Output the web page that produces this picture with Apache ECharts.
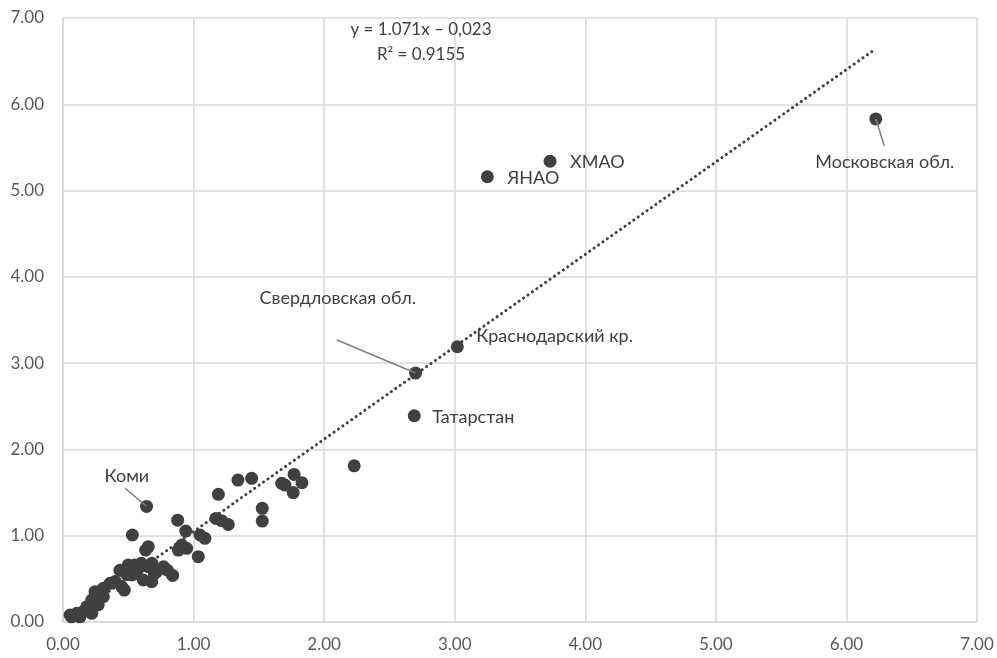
<!DOCTYPE html>
<html>
<head>
<meta charset="utf-8">
<script src="https://cdn.jsdelivr.net/npm/echarts@6/dist/echarts.min.js"></script>
<style>
  html, body { margin: 0; padding: 0; background: #ffffff; }
  #chart { width: 997px; height: 658px; }
</style>
</head>
<body>
<div id="chart"></div>
<script>
// Regions: x and y values (same units on both axes)
const xValues = [
  6.225, 3.73, 3.25, 3.02, 2.70, 2.69, 0.64,
  2.23, 1.34, 1.445, 1.19, 1.675, 1.70, 1.77, 1.83, 1.763, 1.526, 1.526, 1.171, 1.215, 1.266,
  0.878, 0.94, 1.049, 1.087, 1.036, 0.531, 0.653, 0.633, 0.909, 0.883, 0.947,
  0.436, 0.50, 0.577, 0.653, 0.717, 0.615, 0.679, 0.526, 0.80, 0.84, 0.77,
  0.55, 0.60, 0.68, 0.49, 0.56, 0.70,
  0.449, 0.36, 0.40, 0.309, 0.245, 0.283, 0.309, 0.22, 0.181, 0.258, 0.27,
  0.155, 0.105, 0.054, 0.066, 0.22, 0.13, 0.19, 0.47
];
const yValues = [
  5.83, 5.34, 5.16, 3.19, 2.885, 2.39, 1.34,
  1.81, 1.645, 1.665, 1.48, 1.607, 1.587, 1.71, 1.614, 1.50, 1.317, 1.17, 1.20, 1.174, 1.13,
  1.18, 1.054, 1.008, 0.97, 0.757, 1.008, 0.873, 0.834, 0.892, 0.834, 0.854,
  0.60, 0.66, 0.62, 0.64, 0.583, 0.487, 0.467, 0.545, 0.60, 0.54, 0.64,
  0.66, 0.68, 0.68, 0.55, 0.56, 0.56,
  0.41, 0.448, 0.47, 0.39, 0.35, 0.275, 0.293, 0.255, 0.177, 0.197, 0.20,
  0.12, 0.10, 0.081, 0.06, 0.10, 0.06, 0.16, 0.37
];
// Names for the labelled regions (index matches the value arrays)
const pointNames = [
  'Московская обл.', 'ХМАО', 'ЯНАО', 'Краснодарский кр.', 'Свердловская обл.', 'Татарстан', 'Коми'
];
// Label placement relative to each labelled dot: [dx, dy, align]
const labelOffsets = [
  [9, 43, 'center'], [20, 1, 'left'], [20, 1, 'left'], [19, -11, 'left'],
  [-156, -75, 'left'], [18, 1, 'left'], [-42, -30, 'left']
];
// Leader lines: from label end to the dot
const leaderLines = [
  { name: 'Московская обл.', from: [6.29, 5.52] },
  { name: 'Свердловская обл.', from: [2.098, 3.268] },
  { name: 'Коми', from: [0.475, 1.55] }
];
// Linear trend (as shown in the equation)
const trendSlope = 1.071;
const trendIntercept = -0.023;
const trendRange = [0.05, 6.2];
const equationText = 'y = 1.071x – 0,023';
const r2Text = 'R² = 0.9155';
const axisMin = 0, axisMax = 7, axisStep = 1;

const FONT = 'Lato, "Open Sans", sans-serif';
const DARK = '#404040';

const scatterData = xValues.map((x, i) => {
  const item = { value: [x, yValues[i]] };
  if (i < pointNames.length) {
    const off = labelOffsets[i];
    item.name = pointNames[i];
    item.label = {
      show: true,
      position: 'inside',
      formatter: pointNames[i],
      offset: [off[0], off[1]],
      align: off[2],
      verticalAlign: 'middle',
      color: DARK,
      fontSize: 18,
      fontFamily: FONT
    };
  }
  return item;
});

const trendData = trendRange.map(x => [x, trendSlope * x + trendIntercept]);

const leaderData = leaderLines.map(l => {
  const idx = pointNames.indexOf(l.name);
  return [{ coord: l.from }, { coord: [xValues[idx], yValues[idx]] }];
});

const chart = echarts.init(document.getElementById('chart'), null, { renderer: 'canvas' });
chart.setOption({
  animation: false,
  backgroundColor: '#ffffff',
  grid: { left: 63, right: 20, top: 18, bottom: 36, containLabel: false },
  xAxis: {
    type: 'value', min: axisMin, max: axisMax, interval: axisStep,
    axisLine: { show: true, lineStyle: { color: '#d9d9d9', width: 1.5 } },
    axisTick: { show: false },
    splitLine: { show: true, lineStyle: { color: '#d9d9d9', width: 1.5 } },
    axisLabel: { color: '#595959', fontSize: 17, fontFamily: FONT, margin: 14,
      formatter: v => v.toFixed(2) }
  },
  yAxis: {
    type: 'value', min: axisMin, max: axisMax, interval: axisStep,
    axisLine: { show: true, lineStyle: { color: '#d9d9d9', width: 1.5 } },
    axisTick: { show: false },
    splitLine: { show: true, lineStyle: { color: '#d9d9d9', width: 1.5 } },
    axisLabel: { color: '#595959', fontSize: 17, fontFamily: FONT, margin: 19,
      formatter: v => v.toFixed(2) }
  },
  series: [
    {
      type: 'line',
      data: trendData,
      showSymbol: false,
      symbol: 'none',
      lineStyle: { color: DARK, width: 3, type: [0.1, 5.3], cap: 'round' },
      z: 2,
      markLine: {
        silent: true,
        symbol: 'none',
        label: { show: false },
        lineStyle: { color: '#7f7f7f', width: 1.5, type: 'solid' },
        data: leaderData
      }
    },
    {
      type: 'scatter',
      data: scatterData,
      symbol: 'circle',
      symbolSize: 13,
      itemStyle: { color: DARK, opacity: 1 },
      z: 3
    }
  ],
  graphic: [
    { type: 'text', z: 10, position: [421, 30],
      style: { text: equationText, x: 0, y: 0, fill: DARK, font: '17px ' + FONT,
        align: 'center', verticalAlign: 'middle' } },
    { type: 'text', z: 10, position: [421, 55],
      style: { text: r2Text, x: 0, y: 0, fill: DARK, font: '17px ' + FONT,
        align: 'center', verticalAlign: 'middle' } }
  ]
});
</script>
</body>
</html>
